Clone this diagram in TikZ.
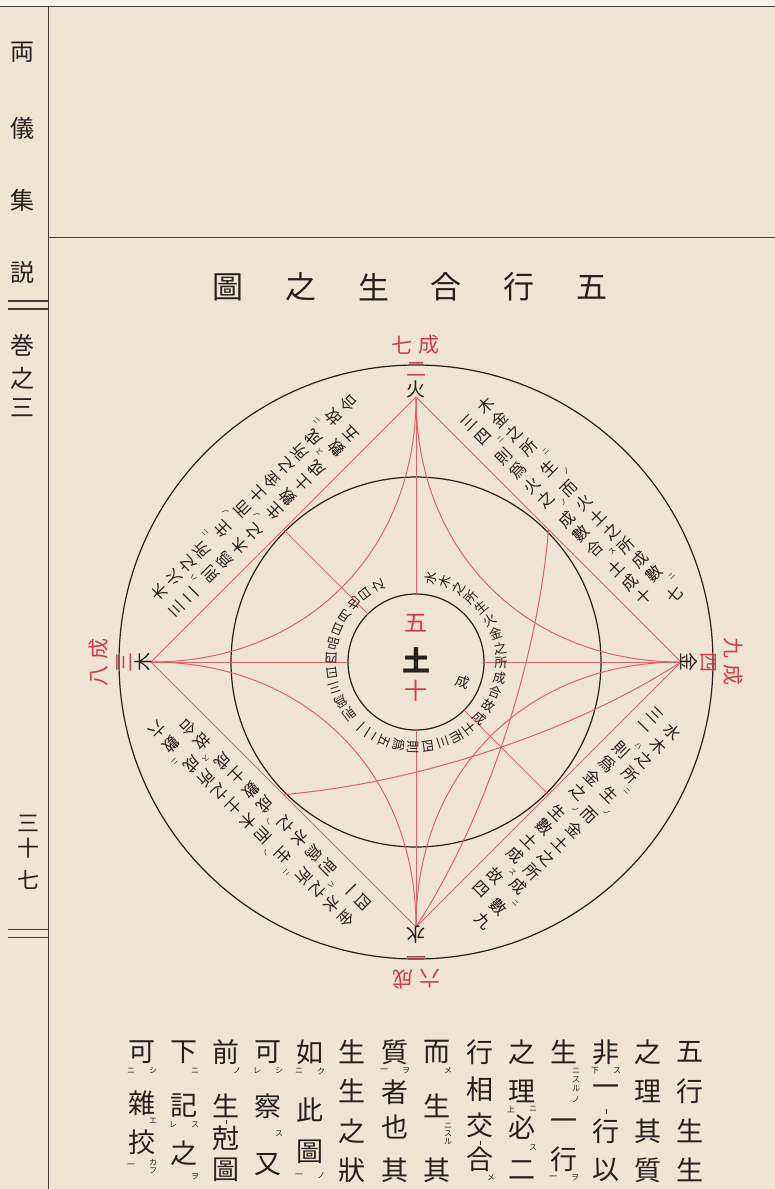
\documentclass[tikz,border=0pt]{standalone}
\usepackage{fontspec}
\newfontfamily\cjk{Noto Sans CJK JP}
\usetikzlibrary{calc}
\definecolor{paper}{RGB}{240,229,212}
\definecolor{ink}{RGB}{38,32,30}
\definecolor{redink}{RGB}{210,60,70}
\definecolor{redline}{RGB}{224,98,104}
\definecolor{rule}{RGB}{70,62,56}
\tikzset{
  cj/.style={inner sep=0pt,outer sep=0pt,text=ink,font=\cjk\fontsize{#1}{#1}\selectfont},
  rd/.style={text=redink},
  redl/.style={draw=redline,line width=1.0pt},
  blk/.style={draw=ink,line width=1.2pt},
  rulel/.style={draw=rule,line width=0.9pt},
  arcch/.style={cj=16},
  arcsm/.style={cj=7},
  ringch/.style={cj=13},
  bt/.style={cj=27},
  sk/.style={cj=8},
}
% column of text along a straight chord of a quadrant
\newcommand\qcol[4]{%
  \xdef\qt{#3}%
  \foreach \qch/\qbig in {#4}{%
    \ifnum\qbig=1\relax
      \pgfmathsetmacro\qm{\qt+10}%
      \node[arcch,rotate=#1] at ($(C)+({-(#1)}:{#2})+({90-(#1)}:\qm)$) {\qch};%
      \pgfmathsetmacro\qn{\qt+20}%
    \else
      \pgfmathsetmacro\qm{\qt+4.5}%
      \node[arcsm,rotate=#1] at ($(C)+({-(#1)}:{#2+10})+({90-(#1)}:\qm)$) {\qch};%
      \pgfmathsetmacro\qn{\qt+9}%
    \fi
    \xdef\qt{\qn}%
  }}
\begin{document}
\begin{tikzpicture}[x=1pt,y=-1pt]
\useasboundingbox (0,0) rectangle (775,1189);
\fill[paper] (0,0) rectangle (775,1189);
\fill[white!55!paper] (0,0) rectangle (775,6);
% page rules
\coordinate (tl) at (0,6); \coordinate (tr) at (775,6);
\coordinate (vt) at (48,6); \coordinate (vb) at (48,1189);
\coordinate (hl) at (48,237); \coordinate (hr) at (775,237);
\draw[rulel] (tl) -- (tr);
\draw[rulel] (vt) -- (vb);
\draw[rulel] (hl) -- (hr);
\draw[draw=rule,line width=1.3pt] (8,301) -- (48,301) (8,309) -- (48,309);
\draw[draw=rule,line width=1.0pt] (8,929) -- (48,929) (8,937) -- (48,937);
% margin text
\foreach \yy/\cc [count=\i] in {52/両,128/儀,200/集,272/説,345/巻,378/之,408/三}
  \node[cj=24] (m\i) at (22,\yy) {\cc};
\foreach \yy/\cc [count=\i] in {823/三,848/十,880/七}
  \node[cj=22] (p\i) at (28,\yy) {\cc};
% title
\foreach \cc [count=\i from 0] in {圖,之,生,合,行,五}
  \node[cj=31] (t\i) at ({228+72.8*\i},287) {\cc};
% circles
\coordinate (C) at (416,662);
\draw[blk] (C) circle[radius=297];
\draw[blk] (C) circle[radius=185];
\draw[blk] (C) circle[radius=68];
% apexes and points
\coordinate (Fa) at (416,397);
\coordinate (Ja) at (681,662);
\coordinate (Wa) at (416,927);
\coordinate (Ma) at (151,662);
\coordinate (Ct) at (416,594);
\coordinate (Cb) at (416,730);
\coordinate (Cl) at (348,662);
\coordinate (Cr) at (484,662);
\coordinate (PNE) at (548.5,529.5);
\coordinate (PNW) at (283.5,529.5);
\coordinate (PSW) at (283.5,794.5);
\coordinate (PSE) at (548.5,794.5);
\coordinate (INW) at (368,614);
\coordinate (ISE) at (464,710);
% red lines
\draw[redl] (Fa) -- (Ja) -- (Wa) -- (Ma) -- cycle;
\draw[redl] (Fa) -- (Ct) (Cb) -- (Wa) (Ma) -- (Cl) (Cr) -- (Ja);
\draw[redl] (PNW) -- (INW) (ISE) -- (PSE);
\draw[redl] (Fa) .. controls ($(Fa)+(0,155)$) and ($(Ja)+(-155,0)$) .. (Ja);
\draw[redl] (Ma) .. controls ($(Ma)+(155,0)$) and ($(Fa)+(0,155)$) .. (Fa);
\draw[redl] (Ma) .. controls ($(Ma)+(155,0)$) and ($(Wa)+(0,-155)$) .. (Wa);
\draw[redl] (Ja) .. controls ($(Ja)+(-155,0)$) and ($(Wa)+(0,-155)$) .. (Wa);
\draw[redl] (PSW) .. controls (400,785) and (560,740) .. (Ja);
\draw[redl] (PNE) .. controls (539,646) and (494,806) .. (Wa);
% apex labels
\foreach \al/\el/\num/\cheng in {90/火/二/七,180/木/三/八,270/水/一/六,0/金/四/九}{
  \node[cj=19,rotate=\al-90] at ($(C)+({-\al}:273)$) {\el};
  \node[cj=20,rd,rotate=\al-90] at ($(C)+({-\al}:292)$) {\num};
  \node[cj=21,rd,rotate=\al-90] at ($(C)+({-\al}:317)+({270-\al}:14)$) {\cheng};
  \node[cj=21,rd,rotate=\al-90] at ($(C)+({-\al}:317)+({90-\al}:13)$) {成};
}
% centre
\node[cj=23,rd] (five) at (416,623) {五};
\node[cj=28] (earth) at (416,660) {\bfseries 土};
\node[cj=23,rd] (ten) at (416,691) {十};
\node[cj=14,rotate=-20] (cz) at (463,682) {成};
% quadrant texts
\qcol{45}{231}{-142}{木/1,金/1,之/1,所/1,ニ/0,生/1,ノ/0,而/1,火/1,土/1,之/1,所/1,成/1,數/1,ニ/0,七/1}
\qcol{45}{207}{-142}{三/1,四/1,ニ/0,則/1,爲/1,火/1,之/1,ノ/0,成/1,數/1,合/1,ス/0,土/1,成/1,十/1}
\qcol{135}{231}{-142}{木/1,火/1,之/1,所/1,ニ/0,生/1,ノ/0,而/1,土/1,金/1,之/1,所/1,成/1,ニ/0,故/1,合/1}
\qcol{135}{207}{-142}{三/1,二/1,ハ/0,則/1,爲/1,木/1,之/1,ノ/0,生/1,數/1,土/1,成/1,ス/0,數/1,五/1}
\qcol{225}{231}{-142}{金/1,水/1,之/1,所/1,ニ/0,生/1,ノ/0,而/1,木/1,土/1,之/1,所/1,成/1,ニ/0,數/1,六/1}
\qcol{225}{207}{-142}{四/1,一/1,ハ/0,則/1,爲/1,水/1,之/1,ノ/0,成/1,數/1,土/1,成/1,ス/0,故/1,合/1}
\qcol{315}{231}{-142}{水/1,木/1,之/1,所/1,ニ/0,生/1,ノ/0,而/1,金/1,土/1,之/1,所/1,成/1,ニ/0,數/1,九/1}
\qcol{315}{207}{-142}{三/1,一/1,ハ/0,則/1,爲/1,金/1,之/1,ノ/0,生/1,數/1,土/1,成/1,ス/0,故/1,四/1}
% ring text round the centre
\foreach \cc [count=\i] in {水,木,之,所,生,火,金,之,所,成,合,故,成,土,而,三,四,則,爲,五,二,一,則,爲,三,曰,四,品,日,月,也,曰,之}{
  \pgfmathsetmacro\qa{80-(\i-1)*10.1}
  \node[ringch,rotate=\qa] at ($(C)+({-\qa}:85)$) {\cc};
}
% bottom text, big characters
\foreach \xx/\yy/\cc in {
  690/1052/五,690/1091/行,690/1131/生,690/1170/生,
  648/1052/之,648/1091/理,648/1131/其,648/1170/質,
  606/1052/非,606/1091/一,606/1131/行,606/1170/以,
  564/1052/生,564/1125/一,564/1159/行,
  522/1052/之,522/1091/理,522/1127/必,522/1170/二,
  480/1052/行,480/1089/相,480/1125/交,480/1159/合,
  437/1052/而,437/1106/生,437/1170/其,
  395/1052/質,395/1092/者,395/1127/也,395/1170/其,
  352/1052/生,352/1091/生,352/1131/之,352/1170/狀,
  310/1052/如,310/1110/此,310/1152/圖,
  268/1052/可,268/1106/察,268/1165/又,
  226/1052/前,226/1106/生,226/1138/尅,226/1170/圖,
  184/1052/下,184/1106/記,184/1153/之,
  142/1052/可,142/1103/雜,142/1142/挍}
  \node[bt] at (\xx,\yy) {\cc};
% bottom text, small kana and marks
\foreach \xx/\yy/\cc in {
  595/1071/下,617/1071/ス,
  576/1071/ニ,576/1080/ス,576/1089/ル,576/1100/ノ,553/1178/一,575/1178/ヲ,
  511/1109/上,533/1109/ニ,533/1148/ス,
  491/1178/メ,
  448/1071/メ,448/1126/ニ,448/1134/ス,448/1142/ル,
  384/1071/一,406/1071/ヲ,
  299/1071/ニ,321/1071/ク,299/1176/一,321/1176/ノ,
  257/1071/レ,279/1071/シ,279/1134/ス,
  237/1071/ノ,
  195/1071/ニ,173/1125/レ,195/1125/ス,195/1177/ヲ,
  131/1071/ニ,153/1071/シ,153/1121/エ,131/1166/一,153/1162/カ,153/1171/フ}
  \node[sk] at (\xx,\yy) {\cc};
\draw[draw=ink,line width=0.8pt] (606,1109) -- (606,1114) (480,1141) -- (480,1145) (226,1120) -- (226,1124);
\end{tikzpicture}
\end{document}
